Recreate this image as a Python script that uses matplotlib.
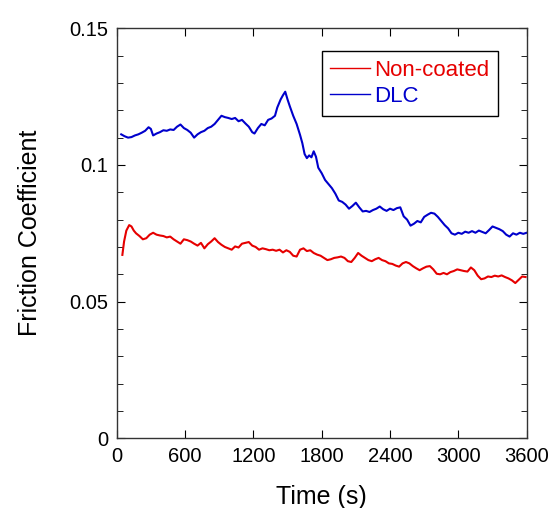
import matplotlib
matplotlib.use("Agg")
from matplotlib import pyplot as plt
from matplotlib.ticker import MultipleLocator, FuncFormatter

plt.rcParams['font.family'] = ['Liberation Sans', 'DejaVu Sans']

# values (time in s, friction coefficient)
t_dlc = [40, 70, 100, 130, 160, 190, 220, 250, 280, 300, 320, 350, 380, 410, 440,
         470, 500, 530, 560, 590, 620, 650, 680, 710, 740, 770, 800, 830, 860, 890,
         920, 950, 980, 1010, 1040, 1070, 1100, 1130, 1160, 1190, 1210, 1240, 1270,
         1300, 1330, 1360, 1390, 1410, 1440, 1460, 1480, 1500, 1520, 1550, 1580,
         1610, 1630, 1650, 1670, 1690, 1710, 1730, 1750, 1770, 1800, 1830, 1860,
         1890, 1920, 1950, 1980, 2010, 2040, 2070, 2100, 2130, 2160, 2190, 2220,
         2250, 2280, 2310, 2340, 2370, 2400, 2430, 2460, 2490, 2520, 2550, 2580,
         2610, 2640, 2670, 2700, 2730, 2760, 2790, 2820, 2850, 2880, 2910, 2940,
         2970, 3000, 3030, 3060, 3090, 3120, 3150, 3180, 3210, 3240, 3270, 3300,
         3330, 3360, 3390, 3420, 3450, 3480, 3510, 3540, 3570, 3600]
mu_dlc = [0.1112, 0.1105, 0.1100, 0.1102, 0.1108, 0.1112, 0.1118, 0.1125, 0.1138,
          0.1132, 0.1108, 0.1115, 0.1120, 0.1127, 0.1125, 0.1130, 0.1128, 0.1140,
          0.1148, 0.1135, 0.1128, 0.1118, 0.1100, 0.1112, 0.1120, 0.1125, 0.1135,
          0.1140, 0.1150, 0.1165, 0.1180, 0.1175, 0.1172, 0.1168, 0.1172, 0.1160,
          0.1165, 0.1152, 0.1140, 0.1120, 0.1115, 0.1135, 0.1150, 0.1145, 0.1165,
          0.1170, 0.1180, 0.1210, 0.1240, 0.1255, 0.1268, 0.1240, 0.1215, 0.1180,
          0.1150, 0.1110, 0.1080, 0.1040, 0.1025, 0.1035, 0.1028, 0.1050, 0.1030,
          0.0990, 0.0970, 0.0945, 0.0930, 0.0915, 0.0895, 0.0870, 0.0865, 0.0855,
          0.0840, 0.0850, 0.0862, 0.0845, 0.0830, 0.0832, 0.0828, 0.0835, 0.0840,
          0.0848, 0.0838, 0.0832, 0.0840, 0.0835, 0.0842, 0.0845, 0.0812, 0.0800,
          0.0778, 0.0785, 0.0795, 0.0790, 0.0810, 0.0818, 0.0825, 0.0822, 0.0810,
          0.0795, 0.0780, 0.0768, 0.0750, 0.0745, 0.0752, 0.0748, 0.0756, 0.0752,
          0.0758, 0.0752, 0.0760, 0.0755, 0.0750, 0.0762, 0.0775, 0.0770, 0.0765,
          0.0758, 0.0745, 0.0738, 0.0750, 0.0745, 0.0752, 0.0748, 0.0752]

t_nc = [50, 65, 85, 110, 130, 150, 170, 200, 230, 260, 290, 320, 350, 380, 410,
        440, 470, 500, 530, 560, 590, 620, 650, 680, 710, 740, 770, 800, 830, 860,
        890, 920, 950, 980, 1010, 1040, 1070, 1100, 1130, 1160, 1190, 1220, 1250,
        1280, 1310, 1340, 1370, 1400, 1430, 1460, 1490, 1520, 1550, 1580, 1610,
        1640, 1670, 1700, 1730, 1760, 1790, 1820, 1850, 1880, 1910, 1940, 1970,
        2000, 2030, 2060, 2090, 2120, 2150, 2180, 2210, 2240, 2270, 2300, 2330,
        2360, 2390, 2420, 2450, 2480, 2510, 2540, 2570, 2600, 2630, 2660, 2690,
        2720, 2750, 2780, 2810, 2840, 2870, 2900, 2930, 2960, 2990, 3020, 3050,
        3080, 3110, 3140, 3170, 3200, 3230, 3260, 3290, 3320, 3350, 3380, 3410,
        3440, 3470, 3500, 3530, 3560, 3590]
mu_nc = [0.0671, 0.0720, 0.0760, 0.0780, 0.0775, 0.0760, 0.0750, 0.0740, 0.0728,
         0.0732, 0.0745, 0.0752, 0.0745, 0.0742, 0.0740, 0.0735, 0.0738, 0.0728,
         0.0720, 0.0712, 0.0728, 0.0725, 0.0720, 0.0712, 0.0705, 0.0715, 0.0695,
         0.0710, 0.0720, 0.0732, 0.0718, 0.0708, 0.0700, 0.0695, 0.0690, 0.0702,
         0.0698, 0.0712, 0.0715, 0.0718, 0.0705, 0.0700, 0.0690, 0.0695, 0.0692,
         0.0688, 0.0690, 0.0686, 0.0690, 0.0680, 0.0688, 0.0682, 0.0668, 0.0665,
         0.0690, 0.0695, 0.0685, 0.0688, 0.0678, 0.0672, 0.0668, 0.0660, 0.0652,
         0.0655, 0.0660, 0.0662, 0.0665, 0.0660, 0.0648, 0.0645, 0.0660, 0.0678,
         0.0668, 0.0660, 0.0652, 0.0648, 0.0655, 0.0660, 0.0652, 0.0648, 0.0640,
         0.0638, 0.0632, 0.0628, 0.0640, 0.0645, 0.0640, 0.0630, 0.0622, 0.0615,
         0.0622, 0.0628, 0.0630, 0.0618, 0.0602, 0.0600, 0.0605, 0.0600, 0.0608,
         0.0612, 0.0618, 0.0615, 0.0612, 0.0610, 0.0625, 0.0615, 0.0595, 0.0582,
         0.0585, 0.0592, 0.0590, 0.0595, 0.0592, 0.0596, 0.0590, 0.0585, 0.0578,
         0.0568, 0.0580, 0.0592, 0.0590]

fig = plt.figure(figsize=(5.54, 5.08), dpi=100)
ax = fig.add_axes([0.2106, 0.1372, 0.7401, 0.8071])

ax.plot(t_nc, mu_nc, color='#e60000', lw=1.5, label='Non-coated')
ax.plot(t_dlc, mu_dlc, color='#0000cc', lw=1.5, label='DLC')

ax.set_xlim(0, 3600)
ax.set_ylim(0, 0.15)
ax.xaxis.set_major_locator(MultipleLocator(600))
ax.yaxis.set_major_locator(MultipleLocator(0.05))
ax.yaxis.set_minor_locator(MultipleLocator(0.01))
ax.yaxis.set_major_formatter(FuncFormatter(lambda v, p: '%g' % round(v, 3)))
ax.tick_params(which='both', direction='in', top=True, right=True, labelsize=14.5)
ax.tick_params(which='major', length=6, pad=6)
ax.tick_params(which='minor', length=4)
for s in ax.spines.values():
    s.set_linewidth(1.0)
    s.set_color('#333333')

ax.set_xlabel('Time (s)', fontsize=18, labelpad=14)
ax.set_ylabel('Friction Coefficient', fontsize=18, labelpad=20)

leg = ax.legend(loc='upper right', bbox_to_anchor=(0.9295, 0.944), fontsize=16,
                labelcolor='linecolor', fancybox=False, edgecolor='black',
                framealpha=1, handlelength=1.8, handletextpad=0.15,
                borderaxespad=0, borderpad=0.4, labelspacing=0.22)
leg.get_frame().set_linewidth(1.0)
for ln in leg.get_lines():
    ln.set_linewidth(1.0)

fig.savefig('out.png', dpi=100)
